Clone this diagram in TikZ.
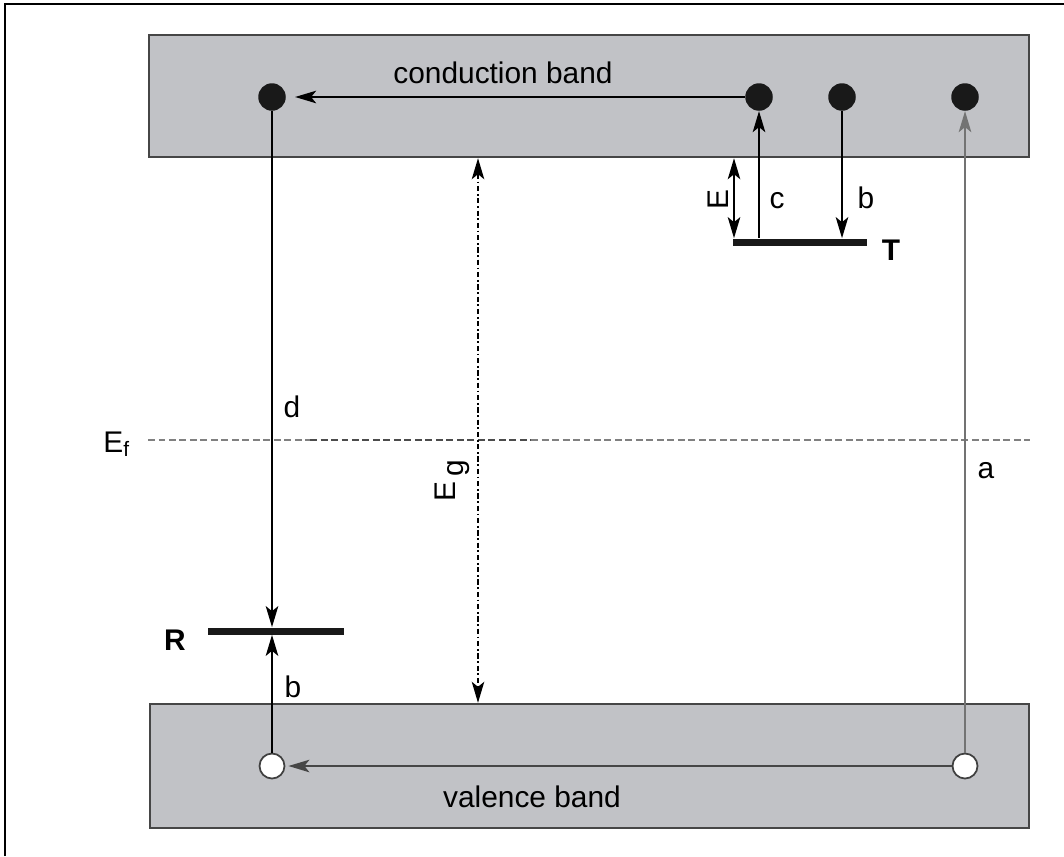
\documentclass[tikz,border=0pt]{standalone}
\usepackage{fontspec}
\setmainfont{Liberation Sans}
\usetikzlibrary{arrows.meta}
\definecolor{bandfill}{RGB}{193,194,198}
\definecolor{bandline}{RGB}{70,70,70}

\begin{document}
\begin{tikzpicture}[x=0.02cm, y=-0.02cm,
  font=\fontsize{17}{20}\selectfont,
  band/.style={draw=bandline, fill=bandfill, line width=1.4pt, inner sep=0pt},
  level/.style={fill=black!90, inner sep=0pt, minimum height=0.14cm},
  electron/.style={circle, fill=black!90, inner sep=0pt, minimum size=0.55cm},
  hole/.style={circle, draw=black!75, fill=white, line width=1pt, inner sep=0pt, minimum size=0.5cm},
  tip/.tip={Stealth[length=0.42cm, width=0.25cm, inset=0.1cm]},
  arr/.style={line width=1.1pt, -tip},
  arrboth/.style={line width=1.1pt, tip-tip},
  lbl/.style={anchor=base, inner sep=0pt}]

  \useasboundingbox (0,0) rectangle (1064,856);
  % Draw frame
  \draw[line width=1.2pt] (5,856) |- (1064,4);

  % Draw bands
  \node[band, minimum width=17.6cm, minimum height=2.44cm] (cband) at (589,96) {};
  \node[band, minimum width=17.58cm, minimum height=2.48cm] (vband) at (589.5,766) {};
  \node[lbl] (ctext) at (503,83) {conduction band};
  \node[lbl] (vtext) at (532,807) {valence band};

  % Draw Fermi level
  \coordinate (fl) at (148,440);
  \coordinate (fm1) at (310,440);
  \coordinate (fm2) at (531,440);
  \coordinate (fr) at (1030,440);
  \draw[gray, line width=0.9pt, dash pattern=on 0.14cm off 0.07cm] (fl) -- (fm1);
  \draw[black!70, line width=0.9pt, dash pattern=on 0.14cm off 0.07cm] (fm1) -- (fm2);
  \draw[gray, line width=0.9pt, dash pattern=on 0.14cm off 0.07cm] (fm2) -- (fr);
  \node[anchor=base west, inner sep=0pt] (eflbl) at (103,452) {E\textsubscript{f}};

  % Draw levels
  \node[level, minimum width=2.72cm] (rlev) at (276,631) {};
  \node[level, minimum width=2.68cm] (tlev) at (800,242) {};
  \node[lbl, font=\fontsize{17}{20}\selectfont\bfseries] (rlbl) at (175,650) {R};
  \node[lbl, font=\fontsize{17}{20}\selectfont\bfseries] (tlbl) at (891,260) {T};

  % Draw electrons and holes
  \node[electron] (e1) at (272,97) {};
  \node[electron] (e2) at (759,97) {};
  \node[electron] (e3) at (842,97) {};
  \node[electron] (e4) at (965,97) {};
  \node[hole] (h1) at (272,766) {};
  \node[hole] (h2) at (965,766) {};

  % Draw transitions
  \draw[arr, shorten >=0.18cm] (e2) -- (e1);
  \draw[arr, draw=bandline, fill=bandline, shorten >=0.06cm] (h2) -- (h1);
  \draw[arr] (e1) -- (e1 |- rlev.north);
  \draw[arr] (h1) -- (h1 |- rlev.south);
  \draw[arr] (e2 |- tlev.north) -- (e2);
  \draw[arr] (e3) -- (e3 |- tlev.north);
  \draw[arr, draw=black!55, fill=black!70] (h2) -- (e4);

  % Draw gaps
  \coordinate (ex) at (734,0);
  \draw[arrboth] (ex |- cband.south) -- (ex |- tlev.north);
  \coordinate (egx) at (478,0);
  \draw[arrboth, line width=0.9pt, dash pattern=on 3pt off 1.5pt on 1pt off 1.5pt]
    (egx |- cband.south) -- (egx |- vband.north);

  % Draw labels
  \node[lbl] (dlbl) at (292,417) {d};
  \node[lbl] (brlbl) at (293,697) {b};
  \node[lbl] (clbl) at (777,208) {c};
  \node[lbl] (btlbl) at (866,208) {b};
  \node[lbl] (albl) at (986,478) {a};
  \node[lbl, rotate=90] (elbl) at (728,200) {E};
  \node[lbl, rotate=90] (eglbl) at (455,481) {E\,\raisebox{-0.3em}{g}};
\end{tikzpicture}
\end{document}
